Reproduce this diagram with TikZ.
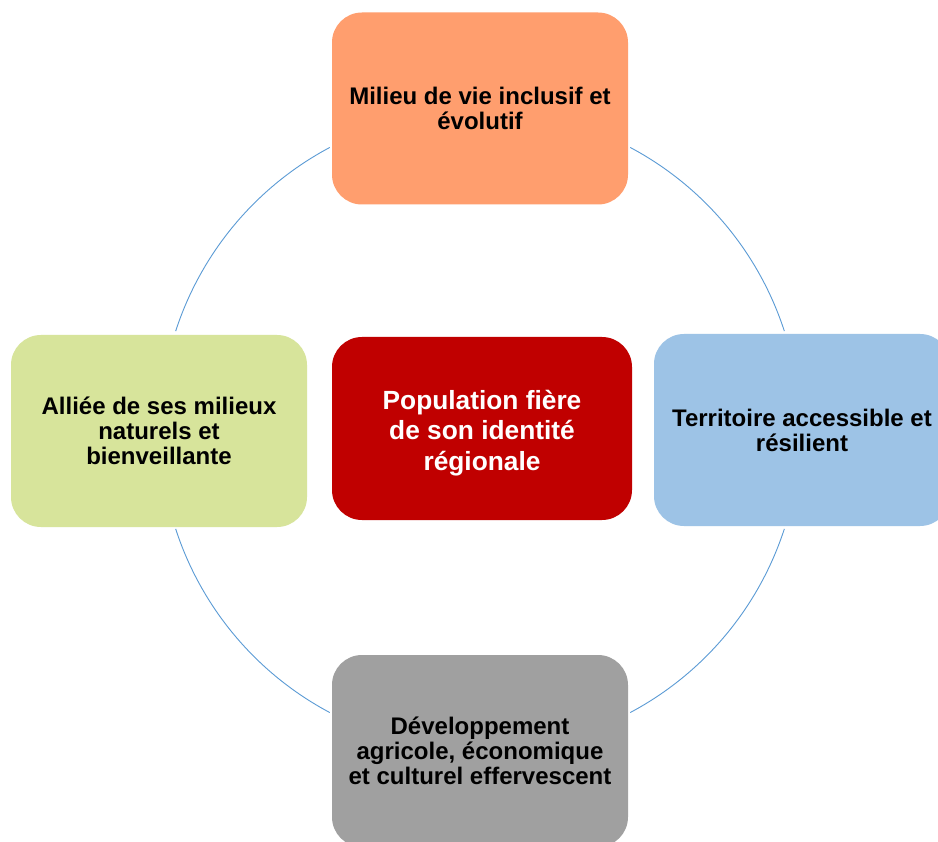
\documentclass[tikz,border=0pt]{standalone}
\usepackage{fontspec}
\setmainfont{Liberation Sans}
\definecolor{cOrange}{RGB}{255,158,110}
\definecolor{cGreen}{RGB}{215,228,155}
\definecolor{cBlue}{RGB}{157,195,230}
\definecolor{cRed}{RGB}{192,0,0}
\definecolor{cGray}{RGB}{160,160,160}
\definecolor{cLine}{RGB}{91,155,213}
\tikzset{
  petal/.style={draw=none, rounded corners=30pt, minimum width=296pt, minimum height=192pt,
    inner sep=0pt, align=center, font=\bfseries\fontsize{24}{25}\selectfont, text=black},
  hub/.style={draw=none, fill=cRed, rounded corners=30pt, minimum width=300pt, minimum height=183pt,
    inner sep=0pt},
  hubtext/.style={inner sep=0pt, align=center, font=\bfseries\fontsize{26.3}{30.5}\selectfont, text=white},
  ring/.style={draw=cLine, line width=0.9pt}
}
\begin{document}
\begin{tikzpicture}[x=1pt,y=-1pt]
\useasboundingbox (0,0) rectangle (938,842);
\clip (0,0) rectangle (938,842);
\fill[white] (0,0) rectangle (938,842);
\coordinate (c) at (480,430);
\draw[ring] (c) ++(118:320pt) arc[start angle=118, end angle=162, radius=320pt];
\draw[ring] (c) ++(62:320pt) arc[start angle=62, end angle=18, radius=320pt];
\draw[ring] (c) ++(-18:320pt) arc[start angle=-18, end angle=-62, radius=320pt];
\draw[ring] (c) ++(-118:320pt) arc[start angle=-118, end angle=-162, radius=320pt];
\node[petal, fill=cOrange] (top) at (480,108.5) {Milieu de vie inclusif et\\évolutif};
\node[petal, fill=cGreen] (left) at (159,431) {Alliée de ses milieux\\naturels et\\bienveillante};
\node[petal, fill=cBlue] (right) at (802,430) {Territoire accessible et\\résilient};
\node[petal, fill=cGray] (bottom) at (480,751) {Développement\\agricole, économique\\et culturel effervescent};
\node[hub] (center) at (482,428.5) {};
\node[hubtext] (centertext) at ([yshift=-4.5pt]center.center) {Population fière\\de son identité\\régionale};
\end{tikzpicture}
\end{document}
